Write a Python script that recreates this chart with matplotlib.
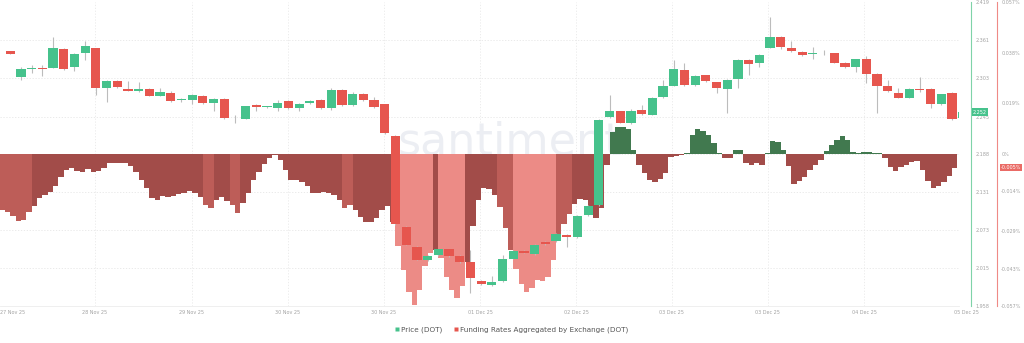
import matplotlib
matplotlib.use("Agg")
import matplotlib.pyplot as plt
import matplotlib.transforms as mtransforms
from matplotlib.lines import Line2D
import numpy as np

# ---------------- data ----------------
opens = [2.345, 2.305, 2.317, 2.319, 2.319, 2.348, 2.320, 2.342, 2.349, 2.289,
         2.299, 2.287, 2.284, 2.287, 2.277, 2.281, 2.270, 2.270, 2.277, 2.266,
         2.272, 2.242, 2.242, 2.263, 2.260, 2.259, 2.269, 2.258, 2.266, 2.270,
         2.258, 2.286, 2.263, 2.279, 2.270, 2.264, 2.216, 2.078, 2.048, 2.027,
         2.035, 2.044, 2.034, 2.024, 1.996, 1.990, 1.996, 2.030, 2.042, 2.037,
         2.055, 2.056, 2.066, 2.062, 2.096, 2.111, 2.244, 2.253, 2.235, 2.255,
         2.248, 2.275, 2.292, 2.316, 2.293, 2.308, 2.297, 2.287, 2.302, 2.331,
         2.326, 2.350, 2.366, 2.350, 2.343, 2.340, 2.341, 2.341, 2.327, 2.321,
         2.332, 2.310, 2.291, 2.281, 2.274, 2.287, 2.287, 2.264, 2.281, 2.243]
highs = [2.345, 2.320, 2.324, 2.324, 2.366, 2.349, 2.341, 2.360, 2.350, 2.300,
         2.300, 2.299, 2.298, 2.288, 2.289, 2.284, 2.273, 2.279, 2.278, 2.273,
         2.273, 2.248, 2.262, 2.264, 2.262, 2.270, 2.271, 2.266, 2.271, 2.272,
         2.288, 2.287, 2.283, 2.281, 2.275, 2.265, 2.217, 2.079, 2.049, 2.035,
         2.045, 2.045, 2.035, 2.043, 1.997, 2.004, 2.035, 2.043, 2.043, 2.052,
         2.056, 2.068, 2.067, 2.096, 2.111, 2.241, 2.278, 2.254, 2.256, 2.263,
         2.275, 2.301, 2.331, 2.327, 2.308, 2.309, 2.298, 2.302, 2.332, 2.332,
         2.340, 2.396, 2.367, 2.360, 2.344, 2.351, 2.346, 2.342, 2.328, 2.333,
         2.337, 2.312, 2.300, 2.288, 2.288, 2.305, 2.288, 2.280, 2.282, 2.253]
lows = [2.340, 2.301, 2.311, 2.307, 2.319, 2.316, 2.314, 2.331, 2.278, 2.267,
        2.289, 2.284, 2.283, 2.276, 2.276, 2.268, 2.268, 2.265, 2.265, 2.254,
        2.242, 2.235, 2.241, 2.253, 2.258, 2.254, 2.257, 2.254, 2.265, 2.257,
        2.255, 2.262, 2.262, 2.269, 2.259, 2.219, 2.081, 2.050, 2.027, 2.026,
        2.034, 2.033, 2.023, 1.977, 1.990, 1.989, 1.995, 2.029, 2.038, 2.036,
        2.051, 2.055, 2.048, 2.061, 2.095, 2.110, 2.243, 2.235, 2.234, 2.248,
        2.247, 2.274, 2.291, 2.292, 2.292, 2.298, 2.281, 2.250, 2.288, 2.308,
        2.321, 2.349, 2.347, 2.343, 2.337, 2.332, 2.339, 2.326, 2.319, 2.313,
        2.296, 2.250, 2.283, 2.273, 2.273, 2.283, 2.258, 2.263, 2.240, 2.242]
closes = [2.340, 2.317, 2.319, 2.317, 2.349, 2.317, 2.340, 2.352, 2.289, 2.299,
          2.290, 2.284, 2.287, 2.277, 2.283, 2.269, 2.271, 2.278, 2.266, 2.272,
          2.243, 2.241, 2.262, 2.260, 2.261, 2.266, 2.258, 2.265, 2.269, 2.258,
          2.286, 2.263, 2.280, 2.270, 2.260, 2.220, 2.082, 2.051, 2.028, 2.034,
          2.044, 2.034, 2.024, 2.001, 1.991, 1.995, 2.030, 2.042, 2.039, 2.051,
          2.052, 2.067, 2.062, 2.095, 2.110, 2.240, 2.254, 2.236, 2.254, 2.249,
          2.274, 2.291, 2.317, 2.293, 2.307, 2.299, 2.288, 2.301, 2.331, 2.325,
          2.339, 2.366, 2.351, 2.344, 2.338, 2.341, 2.341, 2.327, 2.320, 2.332,
          2.310, 2.291, 2.284, 2.274, 2.287, 2.286, 2.264, 2.279, 2.241, 2.252]

# funding rate (%), two readings per candle
funding = [
    -0.0210, -0.0218, -0.0233, -0.0251, -0.0248, -0.0218, -0.0195, -0.0165, -0.0154, -0.0143,
    -0.0120, -0.0086, -0.0060, -0.0053, -0.0064, -0.0068, -0.0056, -0.0068, -0.0064, -0.0053,
    -0.0034, -0.0034, -0.0034, -0.0034, -0.0045, -0.0068, -0.0098, -0.0128, -0.0165, -0.0173,
    -0.0158, -0.0161, -0.0158, -0.0150, -0.0146, -0.0139, -0.0146, -0.0161, -0.0191, -0.0203,
    -0.0173, -0.0161, -0.0176, -0.0191, -0.0221, -0.0184, -0.0146, -0.0098, -0.0068, -0.0038,
    -0.0015, -0.0004, -0.0023, -0.0060, -0.0098, -0.0098, -0.0105, -0.0120, -0.0146, -0.0146,
    -0.0143, -0.0146, -0.0154, -0.0173, -0.0203, -0.0191, -0.0210, -0.0236, -0.0255, -0.0255,
    -0.0240, -0.0210, -0.0195, -0.0255, -0.0345, -0.0435, -0.0518, -0.0566, -0.0510, -0.0420,
    -0.0371, -0.0360, -0.0390, -0.0461, -0.0510, -0.0540, -0.0495, -0.0405, -0.0270, -0.0173,
    -0.0128, -0.0131, -0.0154, -0.0199, -0.0278, -0.0360, -0.0431, -0.0488, -0.0518, -0.0503,
    -0.0473, -0.0476, -0.0461, -0.0398, -0.0315, -0.0263, -0.0225, -0.0188, -0.0169, -0.0173,
    -0.0214, -0.0240, -0.0203, -0.0041, 0.0083, 0.0101, 0.0101, 0.0094, 0.0015, -0.0041,
    -0.0071, -0.0098, -0.0105, -0.0094, -0.0071, -0.0011, -0.0008, -0.0004, 0.0004, 0.0071,
    0.0094, 0.0086, 0.0071, 0.0041, 0.0004, -0.0015, -0.0015, 0.0015, 0.0015, -0.0034,
    -0.0041, -0.0034, -0.0041, 0.0002, 0.0049, 0.0045, 0.0015, -0.0045, -0.0113, -0.0101,
    -0.0086, -0.0060, -0.0041, -0.0023, 0.0011, 0.0034, 0.0053, 0.0068, 0.0053, 0.0008,
    0.0004, 0.0008, 0.0008, 0.0004, 0.0004, -0.0015, -0.0049, -0.0064, -0.0049, -0.0041,
    -0.0030, -0.0026, -0.0060, -0.0101, -0.0128, -0.0120, -0.0105, -0.0083, -0.0053,
]

price_ticks = [2.419, 2.361, 2.303, 2.245, 2.188, 2.131, 2.073, 2.015, 1.958]
funding_ticks = [0.057, 0.038, 0.019, 0.0, -0.014, -0.029, -0.043, -0.057]
funding_tick_labels = ["0.057%", "0.038%", "0.019%", "0%", "-0.014%", "-0.029%", "-0.043%", "-0.057%"]
date_pos = [0.25, 7.92, 16.98, 25.95, 34.92, 43.9, 52.9, 61.8, 70.8, 79.8, 89.4]
date_labels = ["27 Nov 25", "28 Nov 25", "29 Nov 25", "30 Nov 25", "30 Nov 25", "01 Dec 25",
               "02 Dec 25", "03 Dec 25", "03 Dec 25", "04 Dec 25", "05 Dec 25"]
last_price = 2.252
last_funding = -0.005

# ---------------- style ----------------
GREEN = "#46c28c"
RED = "#e6564e"
BAR_DARK = "#a24c49"
BAR_MED = "#bd5d58"
BAR_LIGHT = "#ec8b86"
BAR_GREEN = "#41794f"
TXT = "#a3a3a3"
light_ranges = [(74, 80), (82, 86), (96, 103)]
med_ranges = [(0, 5), (38, 39), (43, 44), (64, 65), (93, 95), (104, 106)]

fig = plt.figure(figsize=(10.24, 3.43), dpi=100)
W, H = 1024, 343
ax = fig.add_axes([0, 1 - 306 / H, 959 / W, 304 / H])
axp = ax.twinx()

# funding bars
t = -0.75 + 0.5 * np.arange(len(funding))
cols = []
for k, v in enumerate(funding):
    if v >= 0:
        cols.append(BAR_GREEN)
    elif any(a <= k <= b for a, b in light_ranges):
        cols.append(BAR_LIGHT)
    elif any(a <= k <= b for a, b in med_ranges):
        cols.append(BAR_MED)
    else:
        cols.append(BAR_DARK)
ax.bar(t, funding, width=0.5, color=cols, linewidth=0, zorder=2)
ax.set_ylim(-0.057, 0.057)
ax.set_xlim(-0.96, 88.66)

# watermark
ax.text(46.7, 0.0, "santiment", ha="center", va="baseline", fontsize=32,
        color="#eceef3", zorder=0.5)

# candles
x = np.arange(len(opens))
o = np.array(opens); c = np.array(closes)
up = c >= o
ccol = [GREEN if u else RED for u in up]
axp.vlines(x, lows, highs, color="#bcbcbc", linewidth=0.8, zorder=2)
bottoms = np.minimum(o, c)
heights = np.maximum(np.abs(c - o), 0.0013)
axp.bar(x, heights, bottom=bottoms, width=0.86, color=ccol, linewidth=0, zorder=3)
axp.set_ylim(1.958, 2.419)
axp.set_xlim(-0.96, 88.66)

# grid (drawn on the lower axes so it stays behind the bars)
hgt = mtransforms.blended_transform_factory(ax.transAxes, axp.transData)
for yv in price_ticks[1:-1]:
    ax.plot([0, 1], [yv, yv], transform=hgt, color="#e6e6e6", linewidth=0.6,
            linestyle=(0, (1.5, 2)), zorder=0)
for xv in date_pos[1:-1]:
    ax.axvline(xv, color="#e9e9e9", linewidth=0.6, linestyle=(0, (1.5, 2)), zorder=0)

# axes cosmetics
for a in (ax, axp):
    for s in ("top", "left", "bottom"):
        a.spines[s].set_visible(False)
ax.spines["bottom"].set_visible(True)
ax.spines["bottom"].set_color("#ececec")
ax.spines["bottom"].set_linewidth(0.6)

ax.yaxis.tick_right()
ax.spines["right"].set_position(("outward", 38 * 0.72))
ax.spines["right"].set_color("#ef8a86")
ax.spines["right"].set_linewidth(0.8)
ax.set_yticks(funding_ticks)
ax.set_yticklabels(funding_tick_labels)
ax.tick_params(axis="y", length=0, pad=3, labelsize=3.5, labelcolor=TXT)

axp.spines["right"].set_position(("outward", 12 * 0.72))
axp.spines["right"].set_color("#7fd3a8")
axp.spines["right"].set_linewidth(0.8)
axp.set_yticks(price_ticks)
axp.set_yticklabels([f"{v:.3f}" for v in price_ticks])
axp.tick_params(axis="y", length=0, pad=3, labelsize=3.5, labelcolor=TXT)

ax.set_xticks([])
btr = mtransforms.blended_transform_factory(ax.transData, ax.transAxes)
for xv, lab in zip(date_pos, date_labels):
    ax.text(xv, -0.02, lab, transform=btr, ha="center", va="center", fontsize=3.5,
            color=TXT, clip_on=False)

# current value labels
trp = mtransforms.blended_transform_factory(fig.transFigure, axp.transData)
axp.text(980 / W, last_price, f"{last_price:.3f}", transform=trp, ha="center", va="center",
         fontsize=3.5, color="white", clip_on=False, zorder=10,
         bbox=dict(boxstyle="square,pad=0.25", fc=GREEN, ec="none"))
trf = mtransforms.blended_transform_factory(fig.transFigure, ax.transData)
ax.text(1011 / W, last_funding, f"{last_funding:.3f}%", transform=trf, ha="center", va="center",
        fontsize=3.5, color="white", clip_on=False, zorder=10,
        bbox=dict(boxstyle="square,pad=0.25", fc="#ea6b66", ec="none"))

# legend
handles = [Line2D([], [], marker="s", linestyle="none", markersize=3.2,
                  markerfacecolor=GREEN, markeredgecolor="none", label="Price (DOT)"),
           Line2D([], [], marker="s", linestyle="none", markersize=3.2,
                  markerfacecolor=RED, markeredgecolor="none",
                  label="Funding Rates Aggregated by Exchange (DOT)")]
fig.legend(handles=handles, loc="center", bbox_to_anchor=(511 / W, 1 - 330 / H), ncol=2,
           frameon=False, fontsize=5.2, handletextpad=0.2, columnspacing=1.5,
           handlelength=0.8, labelcolor="#555555")

fig.savefig("out.png", dpi=100)
